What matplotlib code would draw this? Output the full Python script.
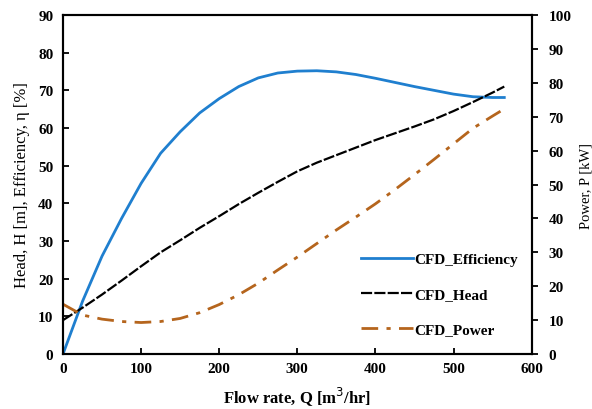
import numpy as np
import matplotlib.pyplot as plt

# --- data ---
q = [0, 25, 50, 75, 100, 125, 150, 175, 200, 225, 250, 275, 300, 325,
     350, 375, 400, 425, 450, 475, 500, 525, 550, 565]
eff = [0, 14, 26, 36, 45.3, 53.3, 59, 64, 67.8, 71, 73.3, 74.6, 75.1, 75.2,
       74.9, 74.2, 73.2, 72.1, 71, 70, 69, 68.3, 68.1, 68.1]
head = [9, 12.3, 15.8, 19.5, 23.3, 27, 30.2, 33.5, 36.6, 39.8, 42.8, 45.7, 48.5, 50.8,
        52.8, 54.8, 56.8, 58.6, 60.4, 62.3, 64.5, 66.9, 69.4, 71]
power = [14.7, 11.5, 10.3, 9.6, 9.3, 9.6, 10.5, 12.2, 14.6, 17.5, 20.9, 24.8, 28.6, 32.6,
         36.6, 40.4, 44.3, 48.5, 52.9, 57.4, 62, 66.6, 70.2, 72.3]

x_ticks = [0, 100, 200, 300, 400, 500, 600]
left_ticks = [0, 10, 20, 30, 40, 50, 60, 70, 80, 90]
right_ticks = [0, 10, 20, 30, 40, 50, 60, 70, 80, 90, 100]

plt.rcParams['font.family'] = 'Liberation Serif'

fig = plt.figure(figsize=(5.92, 4.10), dpi=100)
ax = fig.add_axes([0.1064, 0.134, 0.7916, 0.827])
ax2 = ax.twinx()

l1, = ax.plot(q, eff, color='#1f7fcf', lw=2, label='CFD_Efficiency')
l2, = ax.plot(q, head, color='black', lw=1.6, ls=(0, (5, 1)), label='CFD_Head')
l3, = ax2.plot(q, power, color='#b5651d', lw=2, ls=(0, (6, 3, 1.5, 3)), label='CFD_Power')

ax.set_xlim(0, 600)
ax.set_ylim(0, 90)
ax2.set_ylim(0, 100)
ax.set_xticks(x_ticks)
ax.set_yticks(left_ticks)
ax2.set_yticks(right_ticks)

ax.tick_params(axis='x', direction='in', length=4, width=1.3, labelsize=11, pad=6)
ax.tick_params(axis='y', direction='in', length=4, width=1.3, labelsize=11, pad=7)
ax2.tick_params(axis='y', direction='out', length=4, width=1.3, labelsize=11, pad=8)
for lab in ax.get_xticklabels() + ax.get_yticklabels() + ax2.get_yticklabels():
    lab.set_fontweight('bold')
for a in (ax, ax2):
    for s in a.spines.values():
        s.set_linewidth(1.5)

ax.set_xlabel('Flow rate, Q [m$^3$/hr]', fontsize=12, fontweight='bold', labelpad=6)
ax.set_ylabel('Head, H [m], Efficiency, \u03b7 [%]', fontsize=12, labelpad=6)
ax2.set_ylabel('Power, P [kW]', fontsize=10.5, labelpad=6)

ax2.legend(handles=[l1, l2, l3], loc='lower right', bbox_to_anchor=(1.0, 0.012),
           frameon=False, prop={'weight': 'bold', 'size': 11},
           handlelength=3.4, handletextpad=0.1, labelspacing=1.4)

fig.savefig('out.png', dpi=100)
